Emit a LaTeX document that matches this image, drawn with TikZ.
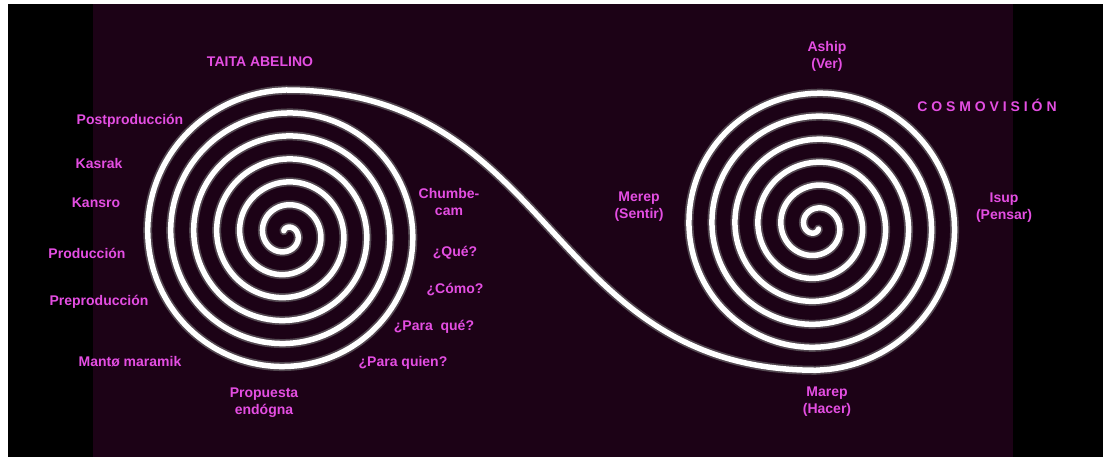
\documentclass[tikz,border=0pt]{standalone}
\usepackage{fontspec}
\setmainfont{Liberation Sans}
\definecolor{night}{RGB}{28,2,22}
\definecolor{rosa}{RGB}{228,78,226}

\begin{document}
\begin{tikzpicture}[x=1pt,y=-1pt,line cap=round,
    lbl/.style={text=rosa,font=\fontsize{14}{17}\selectfont\bfseries,
      align=center,inner sep=0pt}]
  \useasboundingbox (0,0) rectangle (1103,457);
  \fill[white] (0,0) rectangle (1103,457);
  \fill[black] (8,4) rectangle (1103,457);
  \fill[night] (93,4) rectangle (1013,457);

  \draw[white,line width=5.5pt,
      preaction={draw,gray,line width=9pt,opacity=.55}]
    plot[smooth,variable=\t,domain=60:2254,samples=400]
      ({286+0.063889*\t*cos(\t+176)},{234+0.063889*\t*sin(\t+176)})
    .. controls (557,90) and (545,370) .. (816,370.26)
    -- plot[smooth,variable=\s,domain=0:2198,samples=400]
      ({816+0.063889*(2258-\s)*cos(2250-\s)},
       {226+0.063889*(2258-\s)*sin(2250-\s)});

  \node[lbl] (taita) at (260,62) {TAITA ABELINO};
  \node[lbl] (postprod) at (130,121) {Postproducción};
  \node[lbl] (kasrak) at (99,163) {Kasrak};
  \node[lbl] (kansro) at (96,203) {Kansro};
  \node[lbl] (prod) at (87,253) {Producción};
  \node[lbl] (preprod) at (99,302) {Preproducción};
  \node[lbl] (manto) at (130,362) {Mantø maramik};
  \node[lbl] (propuesta) at (264,403) {Propuesta\\endógna};

  \node[lbl] (chumbe) at (449,202) {Chumbe-\\cam};
  \node[lbl] (que) at (455,253) {¿Qué?};
  \node[lbl] (como) at (455,290) {¿Cómo?};
  \node[lbl] (paraque) at (434,327) {¿Para\ \ qué?};
  \node[lbl] (paraquien) at (403,363) {¿Para quien?};

  \node[lbl] (merep) at (639,207) {Merep\\(Sentir)};
  \node[lbl] (aship) at (827,56) {Aship\\(Ver)};
  \node[lbl] (cosmo) at (987,105) {C O S M O V I S I Ó N};
  \node[lbl] (isup) at (1004,208) {Isup\\(Pensar)};
  \node[lbl] (marep) at (827,402) {Marep\\(Hacer)};
\end{tikzpicture}
\end{document}
